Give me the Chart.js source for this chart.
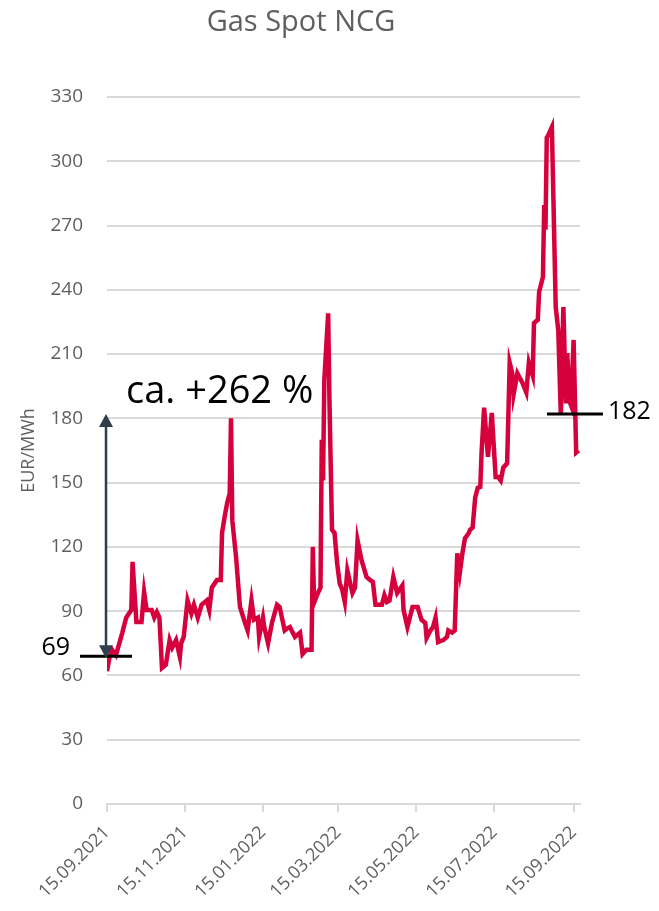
<!DOCTYPE html>
<html>
<head>
<meta charset="utf-8">
<script src="https://cdn.jsdelivr.net/npm/chart.js@4/dist/chart.umd.min.js"></script>
<style>
  html, body { margin: 0; padding: 0; background: #fff; }
  #wrap { width: 659px; height: 911px; }
</style>
</head>
<body>
<div id="wrap"><canvas id="gas"></canvas></div>
<script>
// days after 15.09.2021, price in EUR/MWh
var days = [0, 2, 4, 7, 12, 15, 19, 20, 23, 27, 29, 31, 35, 37, 39, 41, 43, 46, 49, 51, 54, 57, 58, 60,
  63, 66, 68, 71, 74, 78, 80, 82, 86, 89, 90, 92, 94, 96, 97, 98, 101, 104, 108, 110, 113, 115, 118, 119,
  122, 123, 126, 129, 133, 135, 139, 141, 143, 147, 151, 153, 156, 160, 161, 162, 165, 167, 168, 169, 170,
  173, 174, 176, 178, 180, 182, 184, 186, 188, 192, 194, 196, 199, 203, 206, 208, 210, 215, 217, 219, 221,
  224, 227, 231, 232, 235, 239, 243, 246, 249, 250, 253, 255, 257, 259, 263, 266, 267, 270, 272, 274, 276,
  278, 280, 283, 284, 286, 288, 290, 292, 293, 295, 298, 301, 304, 306, 308, 310, 313, 315, 317, 318, 321,
  325, 328, 330, 333, 334, 337, 338, 341, 342, 343, 344, 345, 348, 351, 353, 355, 357, 359, 360, 362, 363,
  365, 367, 369];
var prices = [62, 68.6, 72, 69.5, 80, 87, 90.5, 113, 85, 85, 99, 90.5, 90.5, 87, 89.6, 87, 63.5, 65, 76.5, 73, 76.5, 68.6, 75, 78,
  95, 89, 93, 87, 93, 95, 90.5, 101, 104.5, 104.5, 126.5, 134, 140.5, 145, 180, 132.5, 115, 92, 84.5, 81, 95, 86, 87, 78,
  87, 82.6, 75, 84.5, 93, 92, 81, 82, 82.6, 78, 80, 70, 72, 72, 120, 94, 98.5, 101, 170, 151, 198,
  229, 188.6, 128, 126.5, 112.5, 103, 100, 94.3, 109, 98.5, 101, 123, 114, 106, 104.5, 103.6, 93, 93, 97.5, 94.3, 95,
  106, 98.5, 102, 90.5, 82.6, 92, 92, 86, 84.5, 77.5, 81, 82.6, 87, 75.6, 76.5, 78, 81, 80, 81, 117, 108,
  117, 124, 126.5, 128, 129, 143, 147.5, 148, 164, 185, 162, 182.5, 152.6, 152.6, 151, 157, 159, 206, 201, 191, 201,
  196.5, 192, 206, 200, 224.5, 226, 239, 246, 279.6, 268, 311, 312, 316, 232, 221, 181.6, 232, 187, 210.5, 187.6, 186,
  216.6, 164, 165];

var tickDays = [0, 61, 122, 181, 242, 303, 365];
var tickLabels = ["15.09.2021", "15.11.2021", "15.01.2022", "15.03.2022", "15.05.2022", "15.07.2022", "15.09.2022"];

var startLevel = 69;
var endLevel = 182;
var changeText = "ca. +262 %";

var points = days.map(function (d, i) { return { x: d, y: prices[i] }; });

var grey = "#5f5f5f";

var notes = {
  id: "notes",
  afterDatasetsDraw: function (chart) {
    var ctx = chart.ctx;
    var area = chart.chartArea;
    var y = chart.scales.y;
    var y1 = y.getPixelForValue(startLevel);
    var y2 = y.getPixelForValue(endLevel);
    ctx.save();

    // level lines
    ctx.strokeStyle = "#000";
    ctx.lineWidth = 3;
    ctx.beginPath();
    ctx.moveTo(area.left - 27, y1);
    ctx.lineTo(area.left + 25, y1);
    ctx.moveTo(area.right - 33, y2);
    ctx.lineTo(area.right + 23, y2);
    ctx.stroke();

    ctx.fillStyle = "#000";
    ctx.font = '25px "Open Sans"';
    ctx.textBaseline = "middle";
    ctx.textAlign = "right";
    ctx.fillText(String(startLevel), 70, y1 - 8);
    ctx.textAlign = "left";
    ctx.fillText(String(endLevel), area.right + 28, y2 - 2);

    // arrow
    var ax = area.left - 1;
    ctx.strokeStyle = "#2f3d4c";
    ctx.fillStyle = "#2f3d4c";
    ctx.lineWidth = 2.5;
    ctx.beginPath();
    ctx.moveTo(ax, y2 + 10);
    ctx.lineTo(ax, y1 - 10);
    ctx.stroke();
    ctx.beginPath();
    ctx.moveTo(ax, y2);
    ctx.lineTo(ax - 7, y2 + 13);
    ctx.lineTo(ax + 7, y2 + 13);
    ctx.closePath();
    ctx.fill();
    ctx.beginPath();
    ctx.moveTo(ax, y1 + 2);
    ctx.lineTo(ax - 7, y1 - 11);
    ctx.lineTo(ax + 7, y1 - 11);
    ctx.closePath();
    ctx.fill();

    ctx.fillStyle = "#000";
    ctx.font = '38px "Open Sans"';
    ctx.textAlign = "left";
    ctx.fillText(changeText, area.left + 19, y2 - 22);

    // title
    ctx.fillStyle = grey;
    ctx.font = '29px "Open Sans"';
    ctx.textAlign = "center";
    ctx.fillText("Gas Spot NCG", 301, 23);
    ctx.restore();
  }
};

new Chart("gas", {
  type: "line",
  data: {
    datasets: [{
      data: points,
      borderColor: "#d5003c",
      backgroundColor: "#d5003c",
      borderWidth: 4.5,
      pointRadius: 0,
      tension: 0,
      fill: false
    }]
  },
  options: {
    responsive: true,
    maintainAspectRatio: false,
    animation: false,
    layout: { padding: { top: 97, right: 79, left: 0, bottom: 0 } },
    plugins: {
      legend: { display: false },
      tooltip: { enabled: false },
      title: { display: false }
    },
    scales: {
      x: {
        type: "linear",
        min: 0,
        max: 370,
        afterBuildTicks: function (scale) {
          scale.ticks = tickDays.map(function (d) { return { value: d }; });
        },
        afterFit: function (scale) { scale.height = 107; },
        ticks: {
          autoSkip: false,
          minRotation: 45,
          maxRotation: 45,
          color: grey,
          font: { family: "Open Sans", size: 18 },
          padding: 10,
          callback: function (v) {
            var i = tickDays.indexOf(v);
            return i >= 0 ? tickLabels[i] : "";
          }
        },
        grid: { drawOnChartArea: false, tickLength: 8, color: "#d9d9d9", lineWidth: 2 },
        border: { display: true, color: "#d9d9d9", width: 2 }
      },
      y: {
        min: 0,
        max: 330,
        afterFit: function (scale) { scale.width = 107; },
        ticks: {
          stepSize: 30,
          color: grey,
          font: { family: "Open Sans", size: 19 },
          padding: 24
        },
        title: {
          display: true,
          text: "EUR/MWh",
          color: grey,
          font: { family: "Open Sans", size: 18 },
          padding: { top: 18, bottom: 0 }
        },
        grid: { color: "#d9d9d9", lineWidth: 2, drawTicks: false },
        border: { display: false }
      }
    }
  },
  plugins: [notes]
});
</script>
</body>
</html>
